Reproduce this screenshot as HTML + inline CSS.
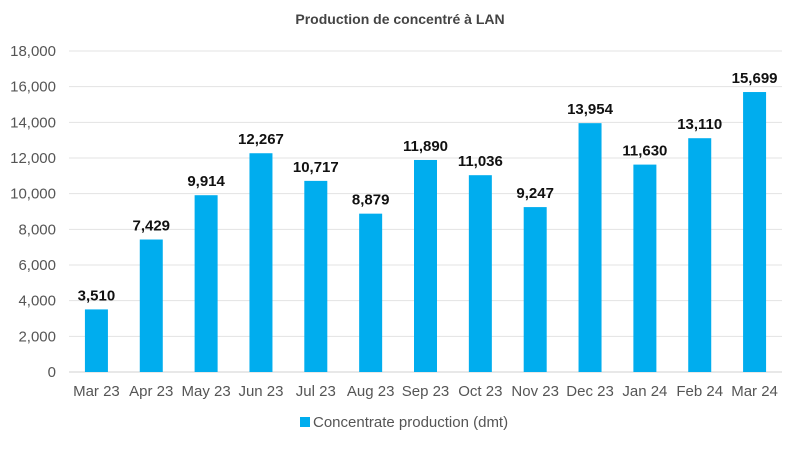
<!DOCTYPE html>
<html><head><meta charset="utf-8"><style>
body{margin:0;background:#fff;font-family:"Liberation Sans",sans-serif}
svg text{font-family:"Liberation Sans",sans-serif}
</style></head><body>
<svg id="c" width="800" height="448" xmlns="http://www.w3.org/2000/svg">
<text x="400" y="24" text-anchor="middle" font-size="14" font-weight="bold" fill="#444">Production de concentré à LAN</text>
<g id="grid"></g><g id="bars"></g>
<g>
<rect x="300" y="417" width="10" height="10" fill="#00ADEE"></rect>
<text x="313" y="427" font-size="15" fill="#555">Concentrate production (dmt)</text>
</g>
</svg>
<script>
const categories=["Mar 23","Apr 23","May 23","Jun 23","Jul 23","Aug 23","Sep 23","Oct 23","Nov 23","Dec 23","Jan 24","Feb 24","Mar 24"];
const values=[3510,7429,9914,12267,10717,8879,11890,11036,9247,13954,11630,13110,15699];
const ticks=[0,2000,4000,6000,8000,10000,12000,14000,16000,18000];
const L=69,R=782,Y0=372,Y1=51,MAX=18000;
const NS="http://www.w3.org/2000/svg";
const y=v=>Y0-(v/MAX)*(Y0-Y1);
const bw=(R-L)/categories.length;
const x=i=>L+bw*(i+0.5);
const fmt=v=>v.toLocaleString("en-US");
function mk(t,a,p){const e=document.createElementNS(NS,t);for(const k in a)e.setAttribute(k,a[k]);p.appendChild(e);return e;}
const g=document.getElementById("grid"),b=document.getElementById("bars");
ticks.forEach(t=>{
 const l=mk("line",{x1:L,x2:R,y1:y(t),y2:y(t),stroke:t===0?"#d0d0d0":"#e3e3e3","stroke-width":1},g);
 
 
 const tx=mk("text",{x:56,y:y(t)+5,"text-anchor":"end","font-size":15,fill:"#555"},g);
 tx.textContent=fmt(t);
 
 
});
values.forEach((v,i)=>{
 const r=mk("rect",{x:x(i)-11.5,y:y(v),width:23,height:Y0-y(v),fill:"#00ADEE"},b);
 
 
 const t=mk("text",{x:x(i),y:y(v)-9,"text-anchor":"middle","font-size":15,"font-weight":"bold",fill:"#111"},b);
 t.textContent=fmt(v);
 
 
 const c=mk("text",{x:x(i),y:396,"text-anchor":"middle","font-size":15,fill:"#555"},b);
 c.textContent=categories[i];
 
 
});
</script>
</body></html>
